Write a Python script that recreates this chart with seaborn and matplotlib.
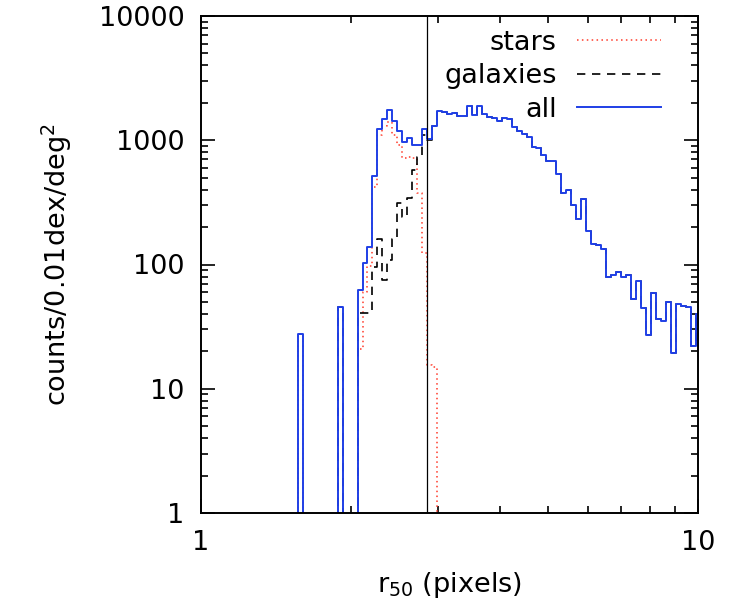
import numpy as np
import pandas as pd
import matplotlib
matplotlib.use("Agg")
import matplotlib.pyplot as plt
import matplotlib.ticker as mticker
from matplotlib.lines import Line2D
import seaborn as sns

# ---- data: bin centres in log10(r50), 0.01 dex bins ----
log_r_start = 0.19
log_r_step = 0.01

all_counts = [
    0,                                                 # 0.19
    27.4, 0, 0, 0, 0, 0, 0, 0, 45.3, 0,            # 0.20-0.29
    0, 0, 62, 102, 139, 519, 1225, 1483, 1751, 1437,  # 0.30-0.39
    1194, 962, 1049, 916, 916, 1225, 1018, 1309, 1730, 1679,  # 0.40-0.49
    1627, 1648, 1577, 1577, 1888, 1607, 1888, 1618, 1549, 1503,  # 0.50-0.59
    1429, 1503, 1472, 1285, 1194, 1117, 1068, 888, 861, 761,  # 0.60-0.69
    685, 685, 532, 378, 400, 301, 232, 337, 187, 146,  # 0.70-0.79
    144, 133, 79, 83, 87.5, 80, 83, 52.5, 74, 44.4,  # 0.80-0.89
    27.1, 58.6, 36.2, 35.3, 49.6, 19.5, 47.8, 46.6, 45.8, 22.2,  # 0.90-0.99
    39.7,                                              # 1.00
]

star_counts = [
    0,
    27.4, 0, 0, 0, 0, 0, 0, 0, 0, 0,
    0, 0, 21, 60, 98, 421, 1100, 1300, 1410, 1100,
    916, 724, 727, 716, 374, 123, 15.5, 15, 0, 0,
    0, 0, 0, 0, 0, 0, 0, 0, 0, 0,
    0, 0, 0, 0, 0, 0, 0, 0, 0, 0,
    0, 0, 0, 0, 0, 0, 0, 0, 0, 0,
    0, 0, 0, 0, 0, 0, 0, 0, 0, 0,
    0, 0, 0, 0, 0, 0, 0, 0, 0, 0,
    0,
]

galaxy_counts = [
    0,
    0, 0, 0, 0, 0, 0, 0, 0, 45.3, 0,
    0, 0, 41, 41, 41, 96, 160, 75, 109, 160,
    310, 240, 345, 576, 730, 1100, 1003, 1295, 1730, 1679,
    1627, 1648, 1577, 1577, 1888, 1607, 1888, 1618, 1549, 1503,
    1429, 1503, 1472, 1285, 1194, 1117, 1068, 888, 861, 761,
    685, 685, 532, 378, 400, 301, 232, 337, 187, 146,
    144, 133, 79, 83, 87.5, 80, 83, 52.5, 74, 44.4,
    27.1, 58.6, 36.2, 35.3, 49.6, 19.5, 47.8, 46.6, 45.8, 22.2,
    39.7,
]

cut_r50 = 2.845
series_labels = ["stars", "galaxies", "all"]

# ---- build step-edge tables ----
n = len(all_counts)
log_centres = log_r_start + log_r_step * np.arange(n)
left_edges = 10 ** (log_centres - log_r_step / 2)
last_edge = 10 ** (log_centres[-1] + log_r_step / 2)


def step_frame(vals):
    v = np.asarray(vals, dtype=float)
    v = np.where(v > 0, v, 1e-3)  # zero counts fall off the log axis
    x = np.append(left_edges, last_edge)
    y = np.append(v, v[-1])
    return pd.DataFrame({"r50": x, "counts": y})


FS = 19.5
plt.rcParams["font.family"] = ["DejaVu Sans"]
plt.rcParams["mathtext.default"] = "regular"

fig = plt.figure(figsize=(7.44, 6.10), dpi=100)
ax = fig.add_axes([201 / 744, 1 - 513 / 610, 497 / 744, 497 / 610])

styles = {
    "stars": dict(color="#ff3a2a", linestyle=(0, (1, 2.2)), linewidth=1.1),
    "galaxies": dict(color="black", linestyle=(0, (5, 4)), linewidth=1.2),
    "all": dict(color="#1f3fe6", linestyle="-", linewidth=1.4),
}
data_map = {"stars": star_counts, "galaxies": galaxy_counts, "all": all_counts}

for lab in series_labels:
    df = step_frame(data_map[lab])
    sns.lineplot(data=df, x="r50", y="counts", ax=ax, drawstyle="steps-post",
                 estimator=None, sort=False, errorbar=None, **styles[lab])

ax.axvline(cut_r50, color="black", linewidth=0.9)

ax.set_xscale("log")
ax.set_yscale("log")
ax.set_xlim(1, 10)
ax.set_ylim(1, 10000)

ax.xaxis.set_major_locator(mticker.FixedLocator([1, 10]))
ax.xaxis.set_major_formatter(mticker.FixedFormatter(["1", "10"]))
ax.xaxis.set_minor_locator(mticker.LogLocator(base=10, subs=np.arange(2, 10)))
ax.xaxis.set_minor_formatter(mticker.NullFormatter())
ax.yaxis.set_major_locator(mticker.FixedLocator([1, 10, 100, 1000, 10000]))
ax.yaxis.set_major_formatter(mticker.FixedFormatter(["1", "10", "100", "1000", "10000"]))
ax.yaxis.set_minor_locator(mticker.LogLocator(base=10, subs=np.arange(2, 10)))
ax.yaxis.set_minor_formatter(mticker.NullFormatter())

ax.tick_params(which="both", direction="in", top=True, right=True, width=1.2)
ax.tick_params(which="major", length=10, labelsize=FS, pad=12)
ax.tick_params(which="minor", length=5)
for s in ax.spines.values():
    s.set_linewidth(1.4)

ax.set_xlabel("r$_{50}$ (pixels)", fontsize=FS, labelpad=10)
ax.set_ylabel("counts/0.01dex/deg$^{2}$", fontsize=FS, labelpad=18)

handles = [Line2D([0], [0], **styles[lab]) for lab in series_labels]
ax.legend(handles, series_labels, loc="upper right", bbox_to_anchor=(0.926, 0.972),
          frameon=False, markerfirst=False, fontsize=FS, handlelength=3.1,
          handletextpad=0.75, labelspacing=0.27, borderaxespad=0.0, borderpad=0.0)

fig.savefig("out.png", dpi=100)
